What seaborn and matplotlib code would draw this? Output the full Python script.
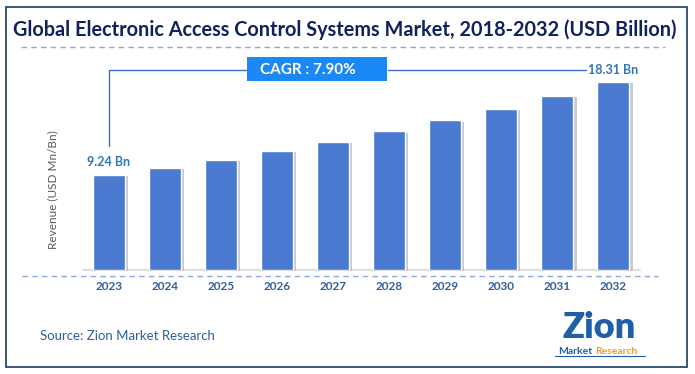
import matplotlib
matplotlib.use("Agg")
import matplotlib.pyplot as plt
import seaborn as sns
import pandas as pd
from matplotlib.patches import Rectangle
from matplotlib.lines import Line2D
import matplotlib.patheffects as pe

years = ["2023", "2024", "2025", "2026", "2027", "2028", "2029", "2030", "2031", "2032"]
revenue = [9.24, 9.95, 10.72, 11.60, 12.48, 13.50, 14.58, 15.70, 16.95, 18.31]
first_label = "9.24 Bn"
last_label = "18.31 Bn"
cagr_text = "CAGR : 7.90%"
title = "Global Electronic Access Control Systems Market, 2018-2032 (USD Billion)"
ylabel = "Revenue (USD Mn/Bn)"
source = "Source: Zion Market Research"

df = pd.DataFrame({"year": years, "value": revenue})

sns.set_theme(style="white")
plt.rcParams['font.family'] = ['Lato', 'DejaVu Sans']

W, H = 695, 374
fig = plt.figure(figsize=(W / 100, H / 100), dpi=100)
fig.patch.set_facecolor("white")

def fx(x):
    return x / W

def fy(y):
    return 1 - y / H

ax = fig.add_axes([fx(83), fy(270), (640 - 83) / W, (270 - 60) / H])
sns.barplot(data=df, x="year", y="value", color="#4A7BD1", saturation=1,
            width=0.57, ax=ax, zorder=3)
for p in ax.patches:
    p.set_path_effects([pe.SimplePatchShadow(offset=(2.5, -1), shadow_rgbFace="#7f7f7f", alpha=0.4),
                        pe.Normal()])
ax.set_xlim(-0.46, 9.48)
ax.set_ylim(0, 210 / 10.27)
for s in ["top", "right", "left"]:
    ax.spines[s].set_visible(False)
ax.spines["bottom"].set_color("#d9d9d9")
ax.spines["bottom"].set_linewidth(1.2)
ax.set_yticks([])
ax.set_xlabel("")
ax.set_ylabel("")
ax.tick_params(axis="x", length=0, pad=8)
for t in ax.get_xticklabels():
    t.set_fontweight("bold")
    t.set_fontsize(8.5)
    t.set_color("#2E5F9E")

# value labels
ax.annotate(first_label, xy=(0, revenue[0]), xytext=(0, 5), textcoords="offset points",
            ha="center", va="bottom", fontsize=9, fontweight="bold", color="#2E75B6")
ax.annotate(last_label, xy=(9, 19.47), xytext=(0, 0), textcoords="offset points",
            ha="center", va="center", fontsize=9, fontweight="bold", color="#2E75B6")

# connector lines
line_c = "#3E6FC4"
ax.plot([0, 0, 2.46], [revenue[0] + 2.8, 19.47, 19.47], color=line_c, lw=1, clip_on=False, zorder=4)
ax.plot([4.98, 8.52], [19.47, 19.47], color=line_c, lw=1, clip_on=False, zorder=4)

# CAGR box
fig.patches.append(Rectangle((fx(247), fy(81)), 140 / W, 24 / H, transform=fig.transFigure,
                             facecolor="#1A88F5", edgecolor="none", zorder=5))
fig.text(fx(260), fy(69.5), cagr_text, ha="left", va="center", fontsize=11,
         fontweight="bold", color="white", zorder=6)

# title
fig.text(fx(345), fy(30), title, ha="center", va="center", fontsize=14.3, fontweight="bold",
         color="#10215C")
fig.lines.append(Line2D([fx(21), fx(665)], [fy(47), fy(47)], transform=fig.transFigure,
                        color="#8EAADB", lw=1, linestyle=(0, (4, 3))))
fig.lines.append(Line2D([fx(22), fx(658)], [fy(276), fy(276)], transform=fig.transFigure,
                        color="#8EAADB", lw=1, linestyle=(0, (4, 3))))

# y label
fig.text(fx(53), fy(190), ylabel, rotation=90, ha="center", va="center", fontsize=8.5,
         color="#595959")

# source
fig.text(fx(40), fy(336), source, ha="left", va="center", fontsize=9.5, color="#2F5F9A")

# logo
fig.text(fx(599), fy(338), "Zion", ha="center", va="baseline", fontsize=26, fontweight="heavy",
         color="#1F5EA8")
fig.text(fx(592), fy(351), "Market", ha="right", va="center", fontsize=7.5, fontweight="bold",
         color="#1F5EA8")
fig.text(fx(595), fy(351), "Research", ha="left", va="center", fontsize=7.5, fontweight="bold",
         color="#F0A020")
fig.lines.append(Line2D([fx(555), fx(645)], [fy(356), fy(356)], transform=fig.transFigure,
                        color="#1F5EA8", lw=0.8))

# border
fig.patches.append(Rectangle((fx(5.5), fy(366.5)), (687 - 5.5) / W, (366.5 - 7) / H,
                             transform=fig.transFigure, facecolor="none", edgecolor="#2B4A6E",
                             lw=1.3))

fig.savefig("out.png", dpi=100)
